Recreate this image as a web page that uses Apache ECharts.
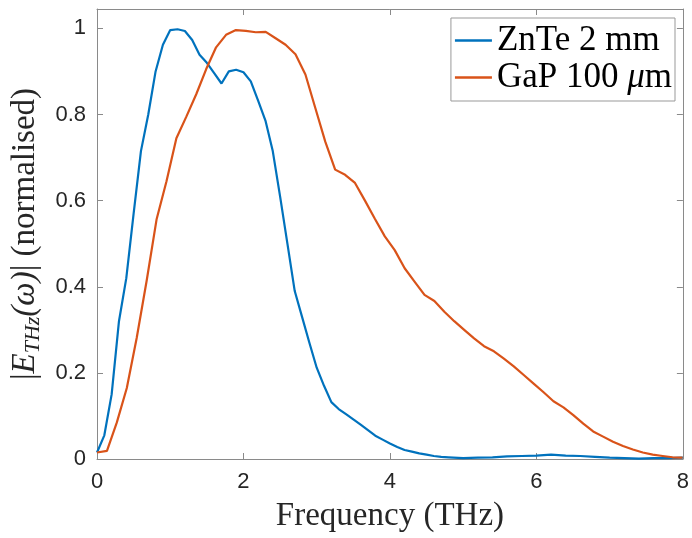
<!DOCTYPE html>
<html>
<head>
<meta charset="utf-8">
<script src="https://cdn.jsdelivr.net/npm/echarts@6/dist/echarts.min.js"></script>
<style>html,body{margin:0;padding:0;background:#fff;}#c{width:692px;height:538px;}</style>
</head>
<body>
<div id="c"></div>
<script>
// ZnTe 2 mm
const zntFreq = [0,0.1,0.2,0.3,0.4,0.5,0.6,0.7,0.8,0.9,1.0,1.1,1.2,1.3,1.4,1.5,1.6,1.7,1.8,1.9,2.0,2.1,2.2,2.3,2.4,2.5,2.6,2.7,2.8,2.9,3.0,3.1,3.2,3.3,3.4,3.5,3.6,3.7,3.8,3.9,4.0,4.1,4.2,4.3,4.4,4.5,4.6,4.7,4.8,5.0,5.2,5.4,5.6,5.8,6.0,6.2,6.4,6.6,6.8,7.0,7.2,7.4,7.6,7.8,8.0];
const zntVal = [0.015,0.055,0.15,0.32,0.42,0.57,0.715,0.80,0.90,0.962,0.996,0.998,0.994,0.973,0.939,0.92,0.896,0.872,0.90,0.904,0.898,0.877,0.832,0.786,0.715,0.61,0.50,0.39,0.33,0.27,0.212,0.17,0.132,0.116,0.104,0.092,0.08,0.067,0.054,0.045,0.036,0.028,0.021,0.017,0.013,0.01,0.007,0.005,0.004,0.002,0.003,0.004,0.006,0.007,0.008,0.01,0.008,0.007,0.005,0.003,0.002,0.001,0.002,0.002,0.003];
// GaP 100 um
const gapFreq = [0,0.136,0.271,0.407,0.542,0.678,0.813,0.949,1.084,1.22,1.355,1.49,1.626,1.762,1.897,2.033,2.168,2.304,2.439,2.575,2.71,2.846,2.981,3.117,3.252,3.388,3.523,3.659,3.794,3.93,4.065,4.201,4.336,4.472,4.607,4.743,4.878,5.014,5.149,5.285,5.42,5.556,5.691,5.827,5.962,6.098,6.233,6.369,6.504,6.64,6.775,6.911,7.046,7.182,7.317,7.453,7.588,7.724,7.859,7.995];
const gapVal = [0.015,0.019,0.085,0.165,0.281,0.414,0.556,0.645,0.745,0.795,0.847,0.905,0.956,0.985,0.996,0.994,0.991,0.992,0.977,0.962,0.94,0.893,0.815,0.737,0.672,0.66,0.641,0.60,0.558,0.517,0.485,0.443,0.412,0.381,0.367,0.342,0.32,0.30,0.28,0.262,0.25,0.233,0.215,0.195,0.175,0.155,0.134,0.12,0.102,0.082,0.064,0.052,0.04,0.03,0.022,0.015,0.01,0.007,0.004,0.003];
const seriesNames = ['ZnTe 2 mm','GaP 100 μm'];
const xTicks = [0,2,4,6,8];
const yTicks = [0,0.2,0.4,0.6,0.8,1];

const axisColor = '#8a8a8a';
const labelFont = {fontFamily:'Liberation Sans, Arial, sans-serif', fontSize:22, color:'#262626'};
const serif = 'Liberation Serif, Times New Roman, serif';

const chart = echarts.init(document.getElementById('c'), null, {renderer:'canvas'});
const xCommon = {type:'value', min:0, max:8, interval:2, splitLine:{show:false},
  axisLine:{show:true,onZero:false,lineStyle:{color:axisColor,width:1}},
  axisTick:{show:true,inside:true,length:6,lineStyle:{color:axisColor}}};
const yCommon = {type:'value', min:0, max:1.045, interval:0.2, splitLine:{show:false},
  axisLine:{show:true,onZero:false,lineStyle:{color:axisColor,width:1}},
  axisTick:{show:true,inside:true,length:6,lineStyle:{color:axisColor}}};

chart.setOption({
  animation:false,
  backgroundColor:'#fff',
  grid:{left:97,right:7,top:9,bottom:76},
  xAxis:[
    Object.assign({}, xCommon, {position:'bottom',
      axisLabel:Object.assign({margin:12, formatter:v=> xTicks.includes(v)? String(v):''}, labelFont),
      name:'Frequency (THz)', nameLocation:'middle', nameGap:41,
      nameTextStyle:{fontFamily:serif, fontSize:33, color:'#262626'}}),
    Object.assign({}, xCommon, {position:'top', axisLabel:{show:false}})
  ],
  yAxis:[
    Object.assign({}, yCommon, {position:'left',
      axisLabel:Object.assign({margin:11, showMaxLabel:false,
        formatter:v=>{ const r=Math.round(v*10)/10; return yTicks.some(t=>Math.abs(t-v)<1e-6)? String(r):''; }}, labelFont),
      name:'|{it|E}{sub|THz}{it|(}{it|ω}{it|)}| (normalised)', nameLocation:'middle', nameGap:44,
      nameTextStyle:{fontFamily:serif, fontSize:33, color:'#262626',
        rich:{
          it:{fontFamily:serif, fontSize:33, fontStyle:'italic', color:'#262626'},
          sub:{fontFamily:serif, fontSize:22, fontStyle:'italic', color:'#262626', verticalAlign:'bottom', padding:[16,0,0,0]}
        }}}),
    Object.assign({}, yCommon, {position:'right', axisLabel:{show:false}})
  ],
  legend:{
    show:true, orient:'vertical', right:17, top:18,
    data:seriesNames,
    icon:'rect', itemWidth:37, itemHeight:2.5, itemGap:2,
    backgroundColor:'#fff', borderColor:'#999', borderWidth:1,
    padding:[5,3,6,4],
    formatter: n => n.replace('μ','{it|μ}'),
    textStyle:{fontFamily:serif, fontSize:35, color:'#000', lineHeight:33, padding:[0,0,0,0],
      rich:{it:{fontFamily:serif, fontSize:35, fontStyle:'italic', color:'#000', lineHeight:33}}}
  },
  series:[
    {name:seriesNames[0], type:'line', xAxisIndex:0, yAxisIndex:0, showSymbol:false, symbol:'none',
     data:zntFreq.map((f,i)=>[f,zntVal[i]]), lineStyle:{color:'#0072BD', width:2.2}, itemStyle:{color:'#0072BD'}},
    {name:seriesNames[1], type:'line', xAxisIndex:0, yAxisIndex:0, showSymbol:false, symbol:'none',
     data:gapFreq.map((f,i)=>[f,gapVal[i]]), lineStyle:{color:'#D95319', width:2.2}, itemStyle:{color:'#D95319'}}
  ]
});
</script>
</body>
</html>
